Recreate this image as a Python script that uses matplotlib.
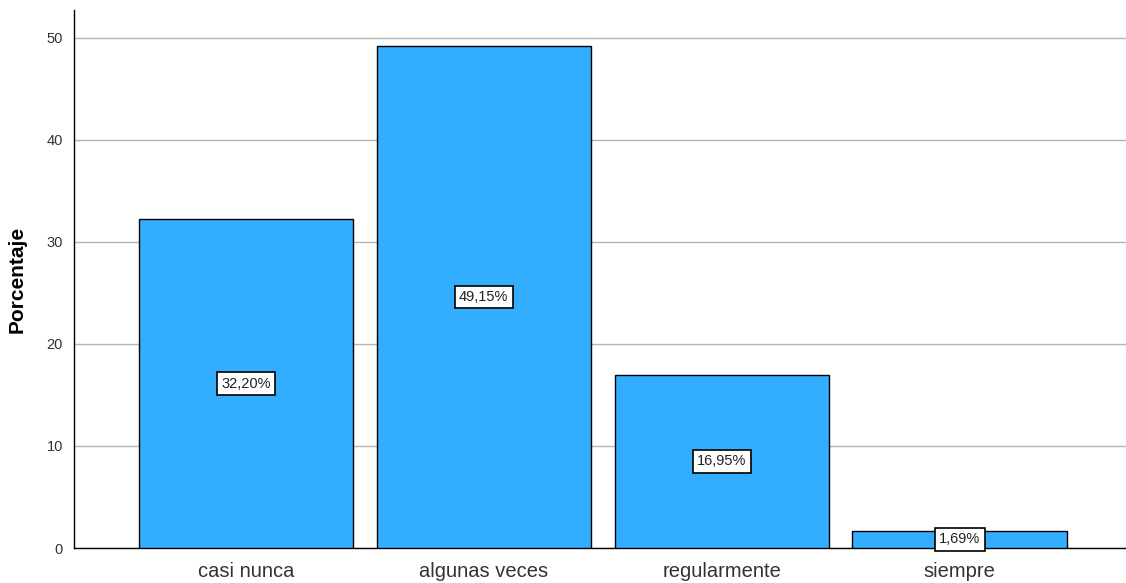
import matplotlib
matplotlib.use("Agg")
import matplotlib.pyplot as plt

categories = ["casi nunca", "algunas veces", "regularmente", "siempre"]
values = [32.20, 49.15, 16.95, 1.69]
labels = ["32,20%", "49,15%", "16,95%", "1,69%"]
yticks = [0, 10, 20, 30, 40, 50]

plt.rcParams['font.family'] = ['Liberation Sans', 'DejaVu Sans']

fig = plt.figure(figsize=(11.26, 5.83), dpi=100)
ax = fig.add_axes([74/1126, 35/583, (1126-74)/1126, (548-10)/583])

x = list(range(len(categories)))
ax.bar(x, values, width=0.9, color="#33AEFF", edgecolor="black", linewidth=1, zorder=3)
for xi, v, lab in zip(x, values, labels):
    ax.text(xi, v / 2, lab, ha="center", va="center", fontsize=10.5, color="#222222",
            bbox=dict(boxstyle="square,pad=0.3", facecolor="white", edgecolor="black", linewidth=1.2),
            zorder=4)

ax.set_xlim(-0.723, 3.70)
ax.set_ylim(0, 52.7)
ax.set_yticks(yticks)
ax.set_yticklabels([str(t) for t in yticks], fontsize=10.5, color="#333333")
ax.set_xticks(x)
ax.set_xticklabels(categories, fontsize=14.5, color="#333333")
ax.tick_params(axis="x", length=0, pad=10)
ax.tick_params(axis="y", length=0, pad=8)
ax.yaxis.grid(True, color="#b4b4b4", linewidth=1, zorder=0)
ax.set_axisbelow(True)
for s in ["top", "right"]:
    ax.spines[s].set_visible(False)
ax.spines["left"].set_linewidth(1)
ax.spines["bottom"].set_linewidth(1)
ax.set_ylabel("Porcentaje", fontsize=15, fontweight="bold", labelpad=14)

fig.savefig("out.png", dpi=100)
